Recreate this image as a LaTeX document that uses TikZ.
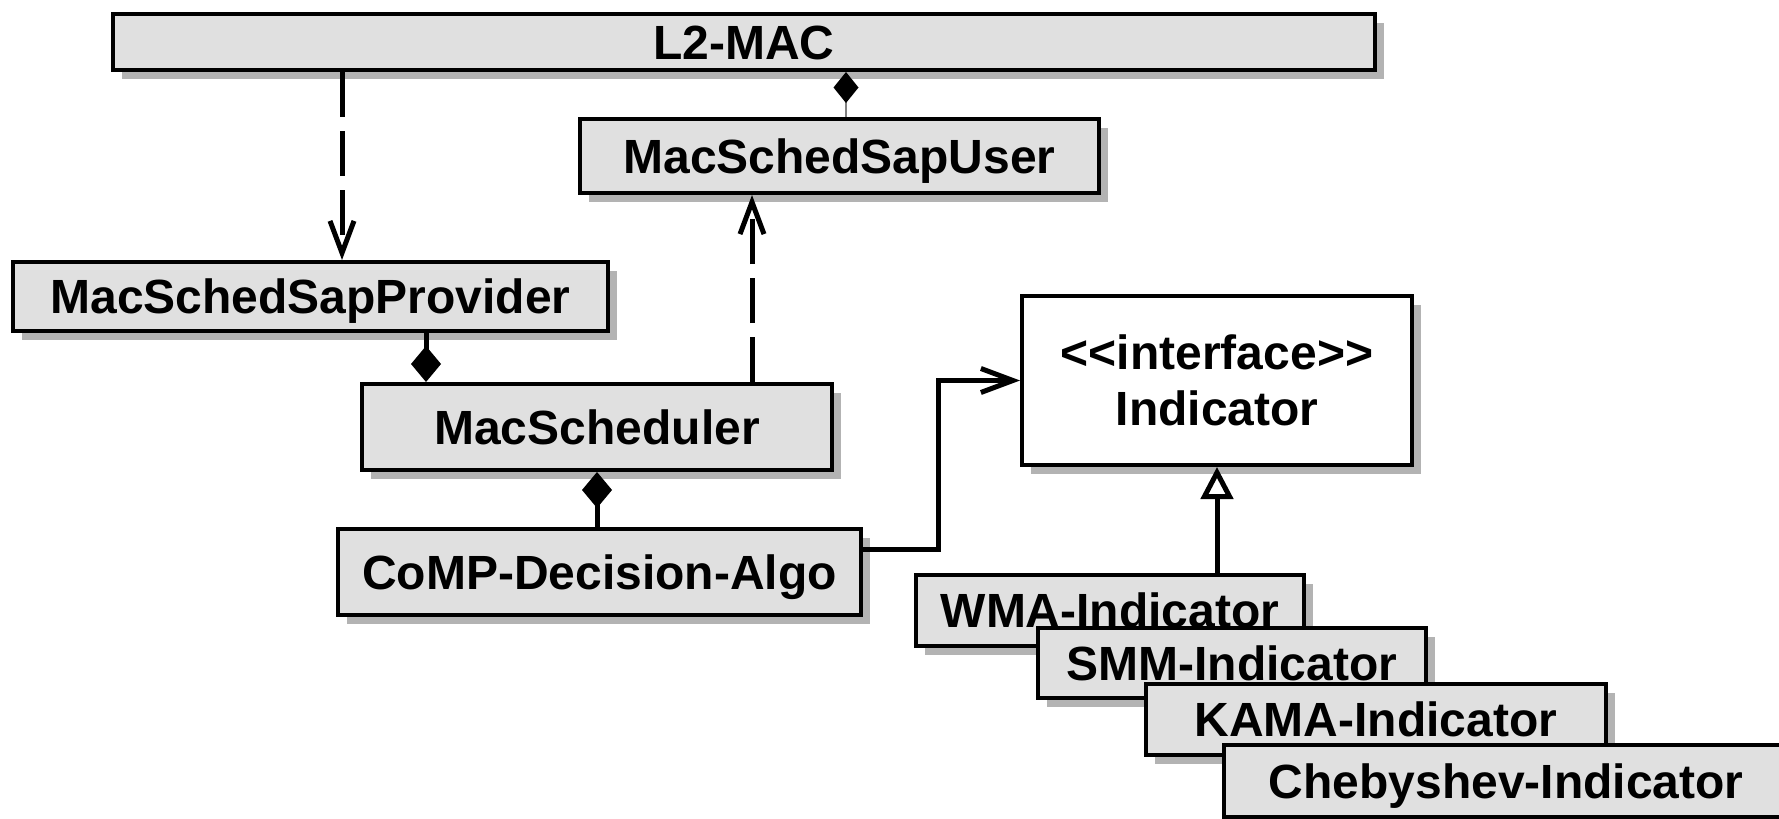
\documentclass[tikz,border=0pt]{standalone}
\usepackage{fontspec}
\setmainfont{Liberation Sans}
\usetikzlibrary{arrows.meta,positioning,calc,shadows}
\definecolor{boxgray}{HTML}{E0E0E0}
\definecolor{shgray}{HTML}{B3B3B3}
\definecolor{linkgray}{HTML}{808080}

\begin{document}
\begin{tikzpicture}[x=0.5pt,y=-0.5pt,
    box/.style={draw,line width=2pt,inner sep=0pt,align=center,
      text height=17pt,text depth=0pt,
      font=\fontsize{24pt}{28pt}\selectfont\bfseries,
      drop shadow={shadow xshift=4.25pt,shadow yshift=-4.5pt,fill=shgray,opacity=1}},
    cls/.style={box,fill=boxgray},
    iface/.style={box,fill=white,text height=45pt},
    dep/.style={line width=2.5pt,dash pattern=on 22.5pt off 7pt,-{Straight Barb[length=16pt,width=12pt]}},
    own/.style={line width=2.5pt,{Diamond[length=18pt,width=15pt]}-},
    assoc/.style={line width=2.5pt,-{Straight Barb[length=16pt,width=12pt]}},
    impl/.style={line width=2.5pt,-{Triangle[open,fill=white,length=16pt,width=16pt]}}]
    \useasboundingbox (0,0) rectangle (1779,819);

    \node[cls,minimum width=631pt,minimum height=28pt] (mac) at (744,42) {L2-MAC};
    \node[cls,minimum width=259.5pt,minimum height=37pt] (user) at (839.5,156) {MacSchedSapUser};
    \node[cls,minimum width=297.5pt,minimum height=34.5pt] (prov) at (310.5,296.5) {MacSchedSapProvider};
    \node[cls,minimum width=235pt,minimum height=43pt] (sched) at (597,427) {MacScheduler};
    \node[cls,minimum width=261.5pt,minimum height=43pt] (algo) at (599.5,572) {CoMP-Decision-Algo};
    \node[iface,minimum width=195pt,minimum height=84.5pt] (ind) at (1217,380.5) {<\kern0pt<interface>\kern0pt>\\Indicator};

    % indicator family, each one over the last
    \node[cls,minimum width=194pt,minimum height=35.5pt] (wma) at (1110,610.5) {WMA-Indicator};
    \node[cls,minimum width=194pt,minimum height=35pt] (smm) at (1232,663) {SMM-Indicator};
    \node[cls,minimum width=230pt,minimum height=35.5pt] (kama) at (1376,719.5) {KAMA-Indicator};
    \node[cls,minimum width=282pt,minimum height=36pt] (cheb) at (1506,781) {Chebyshev-Indicator};

    \coordinate (d1) at ($(prov.north)+(31.5,0)$);
    \coordinate (d2) at ($(sched.north)+(155,0)$);
    \coordinate (c1) at ($(sched.north)+(-171,0)$);
    \coordinate (c2) at ($(mac.south)+(102,0)$);

    \draw[dep] (d1 |- mac.south) -- (d1);
    \draw[dep] (d2) -- (d2 |- user.south);
    \draw[own] (c1) -- (c1 |- prov.south);
    \draw[own] (sched.south) -- (sched.south |- algo.north);
    \draw[line width=1.2pt,linkgray,{Diamond[color=black,length=15.5pt,width=12.5pt]}-] (c2) -- (c2 |- user.north);
    \draw[assoc] ($(algo.east)+(0,-23)$) -| ($(ind.west)+(-82,0)$) -- (ind.west);
    \draw[impl] (ind.south |- wma.north) -- (ind.south);
  \end{tikzpicture}
\end{document}
